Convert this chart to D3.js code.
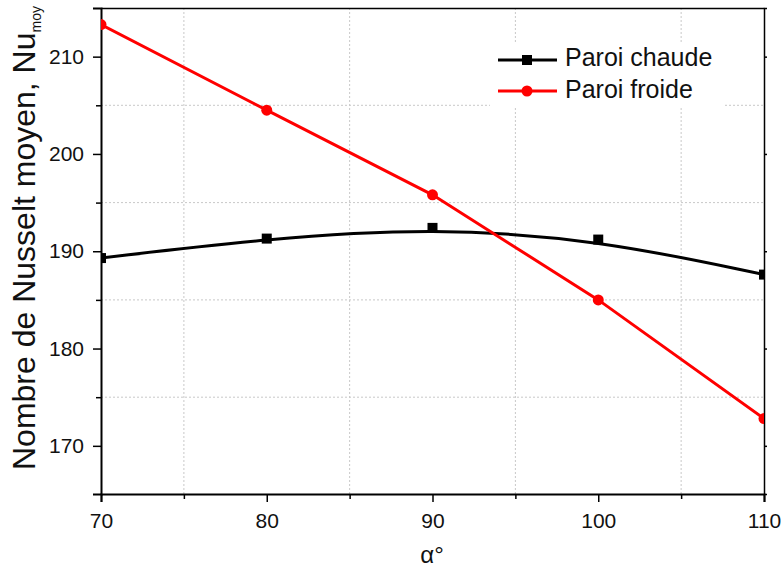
<!DOCTYPE html>
<html>
<head>
<meta charset="utf-8">
<script src="https://cdn.jsdelivr.net/npm/d3@7"></script>
<style>
  html, body { margin: 0; padding: 0; background: #fff; }
  svg { display: block; font-family: "Liberation Sans", Arial, sans-serif; }
</style>
</head>
<body>
<svg id="chart" width="784" height="569"></svg>
<script>
// Angle of inclination (degrees)
const angles = [70, 80, 90, 100, 110];
// Mean Nusselt number on each wall
const paroiChaude = [189.3, 191.3, 192.4, 191.2, 187.6];
const paroiFroide = [213.3, 204.5, 195.8, 185.0, 172.8];
const seriesNames = ["Paroi chaude", "Paroi froide"];
const xTicks = [70, 80, 90, 100, 110];
const yTicks = [170, 180, 190, 200, 210];

const svg = d3.select("#chart");
const plotLeft = 101, plotRight = 764, plotTop = 8, plotBottom = 494;

const x = d3.scaleLinear().domain([70, 110]).range([plotLeft, plotRight]);
const y = d3.scaleLinear().domain([165.05, 215.0]).range([plotBottom, plotTop]);

const xMinor = d3.range(75, 110, 10);
const yMinor = d3.range(175, 215, 10);

// Dotted grid at minor positions
const grid = svg.append("g");
grid.selectAll("line.gx").data(xMinor).join("line")
  .attr("x1", d => x(d)).attr("x2", d => x(d))
  .attr("y1", plotTop).attr("y2", plotBottom)
  .attr("stroke", "#c8c8c8").attr("stroke-width", 1).attr("stroke-dasharray", "2,2");
grid.selectAll("line.gy").data(yMinor).join("line")
  .attr("y1", d => y(d)).attr("y2", d => y(d))
  .attr("x1", plotLeft).attr("x2", plotRight)
  .attr("stroke", "#c8c8c8").attr("stroke-width", 1).attr("stroke-dasharray", "2,2");

// Axes
const bottomAxis = svg.append("g").attr("transform", `translate(0,${plotBottom})`)
  .call(d3.axisBottom(x).tickValues(xTicks).tickFormat(d3.format("d")).tickSize(8).tickPadding(11));
const bottomMinor = svg.append("g").attr("transform", `translate(0,${plotBottom})`)
  .call(d3.axisBottom(x).tickValues(xMinor).tickFormat("").tickSize(5));
const leftAxis = svg.append("g").attr("transform", `translate(${plotLeft},0)`)
  .call(d3.axisLeft(y).tickValues(yTicks).tickFormat(d3.format("d")).tickSize(8).tickPadding(9));
const leftMinor = svg.append("g").attr("transform", `translate(${plotLeft},0)`)
  .call(d3.axisLeft(y).tickValues(yMinor).tickFormat("").tickSize(5));
const topAxis = svg.append("g").attr("transform", `translate(0,${plotTop})`)
  .call(d3.axisTop(x).tickValues(xTicks).tickFormat("").tickSize(0));
const rightAxis = svg.append("g").attr("transform", `translate(${plotRight},0)`)
  .call(d3.axisRight(y).tickValues(yTicks).tickFormat("").tickSize(3));

[bottomAxis, bottomMinor, leftAxis, leftMinor, topAxis, rightAxis].forEach(g => {
  g.select(".domain").attr("stroke", "#000").attr("stroke-width", 2);
  g.selectAll(".tick line").attr("stroke", "#000").attr("stroke-width", 1.5);
  g.selectAll(".tick text").attr("font-size", 21).attr("fill", "#111")
    .attr("font-family", "'Liberation Sans', Arial, sans-serif");
});
[bottomMinor, leftMinor].forEach(g => g.select(".domain").remove());
topAxis.select(".domain").attr("stroke-width", 1.5);
rightAxis.select(".domain").attr("stroke-width", 1.5);

// Series
svg.append("clipPath").attr("id", "plot")
  .append("rect").attr("x", plotLeft).attr("y", plotTop)
  .attr("width", plotRight - plotLeft).attr("height", plotBottom - plotTop);

const chaude = angles.map((a, i) => [a, paroiChaude[i]]);
const froide = angles.map((a, i) => [a, paroiFroide[i]]);

const smooth = d3.line().x(d => x(d[0])).y(d => y(d[1])).curve(d3.curveBasis);
const straight = d3.line().x(d => x(d[0])).y(d => y(d[1]));

const plot = svg.append("g").attr("clip-path", "url(#plot)");
plot.append("path").datum(chaude).attr("d", smooth)
  .attr("fill", "none").attr("stroke", "#000").attr("stroke-width", 3);
plot.selectAll("rect.pt").data(chaude).join("rect")
  .attr("x", d => x(d[0]) - 5).attr("y", d => y(d[1]) - 5)
  .attr("width", 10).attr("height", 10).attr("fill", "#000");

plot.append("path").datum(froide).attr("d", straight)
  .attr("fill", "none").attr("stroke", "#ff0000").attr("stroke-width", 3);
plot.selectAll("circle.pt").data(froide).join("circle")
  .attr("cx", d => x(d[0])).attr("cy", d => y(d[1])).attr("r", 5.5).attr("fill", "#ff0000");

// Legend
const legend = svg.append("g");
legend.append("rect").attr("x", 490).attr("y", 42).attr("width", 235).attr("height", 64).attr("fill", "#fff");
const colors = ["#000", "#ff0000"];
const rowY = [60, 91];
seriesNames.forEach((name, i) => {
  const ly = rowY[i];
  legend.append("line").attr("x1", 498).attr("x2", 557).attr("y1", ly).attr("y2", ly)
    .attr("stroke", colors[i]).attr("stroke-width", 3);
  if (i === 0) {
    legend.append("rect").attr("x", 522).attr("y", ly - 5).attr("width", 10).attr("height", 10).attr("fill", "#000");
  } else {
    legend.append("circle").attr("cx", 527).attr("cy", ly).attr("r", 5.5).attr("fill", "#ff0000");
  }
  legend.append("text").attr("x", 565).attr("y", ly + (i === 0 ? 6 : 7)).attr("font-size", 25)
    .attr("fill", "#111").text(name);
});

// Axis titles
svg.append("text").attr("x", 432).attr("y", 563).attr("text-anchor", "middle")
  .attr("font-size", 24).attr("fill", "#111").text("α°");

const yt = svg.append("text").attr("transform", "translate(35,470) rotate(-90)")
  .attr("text-anchor", "start").attr("font-size", 32).attr("fill", "#111");
yt.append("tspan").text("Nombre de Nusselt moyen, Nu");
yt.append("tspan").attr("font-size", 14).attr("dy", 6).text("moy");
</script>
</body>
</html>
